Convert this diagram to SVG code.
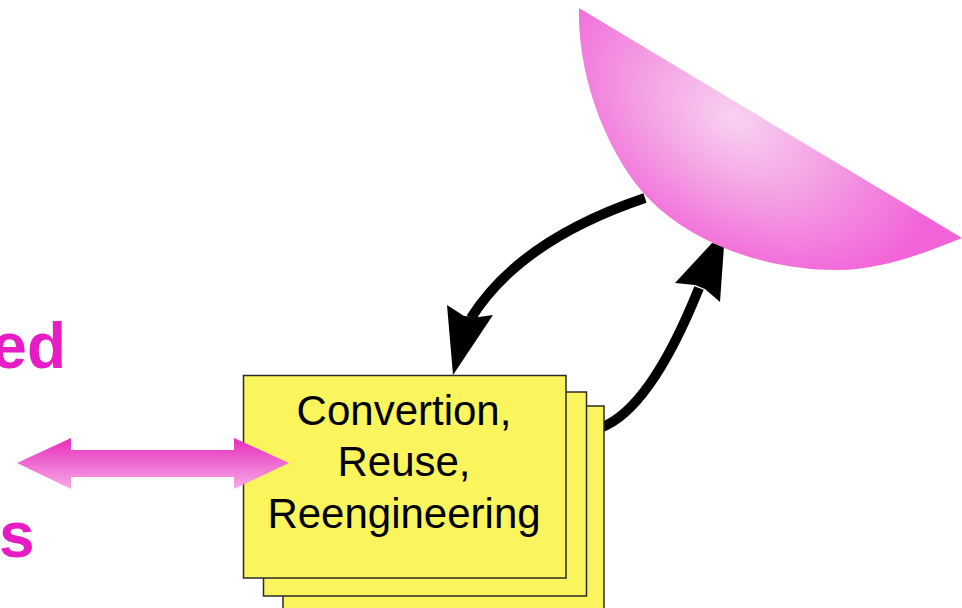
<svg xmlns="http://www.w3.org/2000/svg" width="962" height="608" viewBox="0 0 962 608">
  <style>
    .label { font-family: "Liberation Sans", Arial, sans-serif; }
    .side { font-weight: bold; font-size: 64px; fill: #e81cc4; }
    .card { fill: #faf55c; stroke: #2a2a2a; stroke-width: 1.5; }
    .boxtext { font-size: 42px; fill: #000; text-anchor: middle; }
    .flow { fill: none; stroke: #000; stroke-width: 10; stroke-linecap: butt; }
    .head { fill: #000; }
  </style>
  <defs>
    <linearGradient id="pinkArrow" x1="0" y1="0" x2="0" y2="1">
      <stop offset="0" stop-color="#e62cbd"/>
      <stop offset="1" stop-color="#f7aae6"/>
    </linearGradient>
    <radialGradient id="dishShade" gradientUnits="userSpaceOnUse" cx="735" cy="120" r="175"
                    gradientTransform="rotate(31 735 120) translate(735 120) scale(1.25 0.8) translate(-735 -120)">
      <stop offset="0" stop-color="#f9d2f1"/>
      <stop offset="0.45" stop-color="#f4a2e4"/>
      <stop offset="1" stop-color="#f262d8"/>
    </radialGradient>
  </defs>

  <!-- partial side labels at the left edge -->
  <g id="label-top">
    <text class="label side" x="66" y="368" text-anchor="end">ed</text>
  </g>
  <g id="label-bottom">
    <text class="label side" x="-1" y="557">s</text>
  </g>

  <!-- curved connectors between stack and dish -->
  <g id="connectors">
    <path class="flow" d="M645,198 Q520,240 471,318"/>
    <polygon class="head" points="453,375 447,305 464,316 479,317 493,315"/>
    <path class="flow" d="M600,428 Q650,410 699,288"/>
    <polygon class="head" points="712,243 724,246 720,302 705,289 695,285 675,283"/>
  </g>

  <!-- stacked process cards -->
  <g id="process-stack">
    <rect class="card" x="283" y="406" width="321" height="210"/>
    <rect class="card" x="263.5" y="392" width="323" height="204"/>
    <rect class="card" x="243.5" y="375.5" width="322.5" height="202.5"/>
    <text class="label boxtext" x="404" y="425">Convertion,</text>
    <text class="label boxtext" x="404" y="476">Reuse,</text>
    <text class="label boxtext" x="404" y="528">Reengineering</text>
  </g>

  <!-- two-way link into the stack -->
  <g id="link-arrow">
    <polygon fill="url(#pinkArrow)"
             points="17,463 71,438 71,450 234,450 234,438 289,463 234,489 234,477 71,477 71,489"/>
  </g>

  <!-- dish -->
  <g id="dish">
    <path fill="url(#dishShade)"
          d="M579,8 C577,80 610,160 650,200 C695,245 767,270 837,270 C882,270 927,252 962,238 Z"/>
  </g>
</svg>
